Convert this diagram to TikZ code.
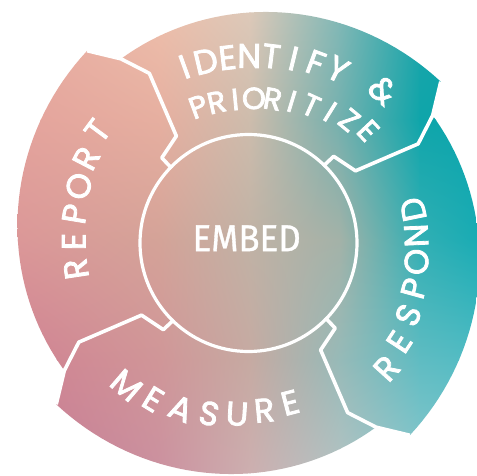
\documentclass[tikz,border=0pt]{standalone}
\usepackage{fontspec}
\newfontfamily\lblfont{Poppins}[FakeBold=2.4]
\newfontfamily\embfont{Fira Sans}[FakeBold=1]
\usetikzlibrary{calc,shadings}
\newlength\lwid
\newcommand\lblsize{\lblfont\fontsize{33}{33}\selectfont}
\newcommand\gapchar{\kern2pt}
% colour control grid: columns x=0,160,250,340,420,477 ; rows y(px)=0,120,240,360,475
\definecolor{c00}{RGB}{232,170,160}\definecolor{c10}{RGB}{238,192,172}\definecolor{c20}{RGB}{222,202,186}\definecolor{c30}{RGB}{130,185,183}\definecolor{c40}{RGB}{30,165,170}\definecolor{c50}{RGB}{0,160,168}
\definecolor{c01}{RGB}{228,162,156}\definecolor{c11}{RGB}{230,175,160}\definecolor{c21}{RGB}{205,188,172}\definecolor{c31}{RGB}{115,176,174}\definecolor{c41}{RGB}{15,165,170}\definecolor{c51}{RGB}{10,165,172}
\definecolor{c02}{RGB}{220,150,152}\definecolor{c12}{RGB}{212,163,152}\definecolor{c22}{RGB}{192,178,165}\definecolor{c32}{RGB}{163,178,168}\definecolor{c42}{RGB}{50,175,180}\definecolor{c52}{RGB}{25,172,180}
\definecolor{c03}{RGB}{208,128,146}\definecolor{c13}{RGB}{208,150,152}\definecolor{c23}{RGB}{198,170,162}\definecolor{c33}{RGB}{150,186,184}\definecolor{c43}{RGB}{95,188,194}\definecolor{c53}{RGB}{80,188,196}
\definecolor{c04}{RGB}{195,118,145}\definecolor{c14}{RGB}{203,145,160}\definecolor{c24}{RGB}{205,175,176}\definecolor{c34}{RGB}{180,195,195}\definecolor{c44}{RGB}{140,200,205}\definecolor{c54}{RGB}{125,200,206}
\tikzset{
  sepline/.style={white, line width=3.6pt, line join=round},
  ringline/.style={white, line width=3.2pt},
  lbl/.style={text=white, font=\lblsize, inner sep=0pt, outer sep=0pt, anchor=center},
  embedtext/.style={text=white, font=\embfont\fontsize{37.5}{37.5}\selectfont, inner sep=0pt, xscale=0.93},
}
\pgfmathdeclarefunction{spr}{2}{\pgfmathparse{224+8*(((#1)-(#2))/84.7)+19*(((#1)-(#2))/84.7)^2}}
% #1 first centre angle, #2 last centre angle, #3 r first, #4 r middle, #5 r last,
% #6 rotation offset, #7 letters, #8 name prefix
\newcommand\arcword[8]{%
  \xdef\awW{0}\xdef\awN{0}%
  \foreach \ch in {#7}{%
    \settowidth{\lwid}{\lblsize\ch}%
    \pgfmathsetmacro\awTmp{\awW+\lwid}\xdef\awW{\awTmp}%
    \pgfmathtruncatemacro\awTmpn{\awN+1}\xdef\awN{\awTmpn}%
    \pgfmathsetmacro\awTmp{\lwid}%
    \ifnum\awN=1 \xdef\awFirst{\awTmp}\fi
    \xdef\awLast{\awTmp}%
  }%
  \pgfmathsetmacro\awS{\awW-(\awFirst+\awLast)/2}%
  \pgfmathsetmacro\awL{abs((#2)-(#1))*pi/180*((#3)+(#4)+(#5))/3}%
  \pgfmathsetmacro\awT{(\awL-\awS)/(\awN-1)}%
  \xdef\awT{\awT}\xdef\awL{\awL}%
  \xdef\awC{0}\xdef\awPrev{0}\xdef\awI{0}%
  \foreach \ch in {#7}{%
    \settowidth{\lwid}{\lblsize\ch}%
    \pgfmathsetmacro\awTmp{\lwid}%
    \ifnum\awI=0 \xdef\awC{0}\else
      \pgfmathsetmacro\awTmpc{\awC+(\awPrev+\awTmp)/2+\awT}\xdef\awC{\awTmpc}\fi
    \xdef\awPrev{\awTmp}%
    \pgfmathtruncatemacro\awTmpi{\awI+1}\xdef\awI{\awTmpi}%
    \pgfmathsetmacro\awF{\awC/\awL}%
    \pgfmathsetmacro\awA{(#1)+((#2)-(#1))*\awF}%
    \pgfmathsetmacro\awR{(#3)*2*(\awF-0.5)*(\awF-1)-4*(#4)*\awF*(\awF-1)+(#5)*2*\awF*(\awF-0.5)}%
    \pgfmathsetmacro\awRot{\awA+(#6)}%
    \node[lbl,rotate=\awRot] (#8\awI) at ({248.5+\awR*cos(\awA)},{232+\awR*sin(\awA)}) {\ch};
  }%
}
\begin{document}
\begin{tikzpicture}[x=1pt,y=1pt]
\useasboundingbox (0,0) rectangle (477,475);
\fill[white] (0,0) rectangle (477,475);
\coordinate (C) at (248.5,232);
% gradient-filled ring shape
\begin{scope}
  \clip ({248.5+224*cos(304.7)},{232+224*sin(304.7)})
    \foreach \h/\s in {220/304.7,130/214.7,40/124.7,-50/34.7}{
      -- plot[domain=\s:\h,samples=40] ({248.5+spr(\s,\x)*cos(\x)},{232+spr(\s,\x)*sin(\x)})
      -- ({248.5+224*cos(\h-5.3)},{232+224*sin(\h-5.3)})
    } -- cycle;
  \foreach \i/\xa/\xb in {0/0/160,1/160/250,2/250/340,3/340/420,4/420/477}{
    \foreach \j/\ya/\yb in {0/0/120,1/120/240,2/240/360,3/360/475}{
      \pgfmathtruncatemacro\ii{\i+1}
      \pgfmathtruncatemacro\jj{\j+1}
      \edef\cul{c\i\j}\edef\cur{c\ii\j}\edef\cll{c\i\jj}\edef\clr{c\ii\jj}
      \shade[upper left=\cul, upper right=\cur, lower left=\cll, lower right=\clr]
        (\xa-0.4,475-\yb-0.4) rectangle (\xb+0.4,475-\ya+0.4);
    }
  }
\end{scope}
% arrow-shaped separators
\foreach \h in {130,40,-50,-140}{
  \draw[sepline] ($(C)+(\h:251)$) -- ($(C)+(\h-5.3:224)$) -- ($(C)+(\h-9.7:196.5)$)
     -- ($(C)+(\h-6:129)$) -- ($(C)+(\h+5.5:121.5)$) -- ($(C)+(\h+5.8:107)$);
}
% centre circle
\draw[ringline] (C) circle[radius=108.5];
\node[embedtext] (embed) at (246.7,236.7) {EMBED};
% curved labels
\renewcommand\lblsize{\lblfont\fontsize{34}{34}\selectfont}
\arcword{110}{48.7}{187.5}{189}{203.5}{-90}{I,D,E,N,T,I,F,Y,\gapchar,\&}{idf}
\renewcommand\lblsize{\lblfont\fontsize{30.5}{30.5}\selectfont}
\arcword{110.2}{43.2}{145.3}{147}{164.2}{-90}{P,R,I,O,R,I,T,I,Z,E}{pri}
\renewcommand\lblsize{\lblfont\fontsize{33.5}{33.5}\selectfont}
\arcword{188.6}{143.4}{174.5}{177.5}{188.3}{-90}{R,E,P,O,R,T}{rep}
\arcword{-42.2}{11.5}{186.5}{171.5}{168}{90}{R,E,S,P,O,N,D}{res}
\arcword{229.4}{284.6}{187.5}{175}{165}{90}{M,E,A,S,U,R,E}{mea}
\end{tikzpicture}
\end{document}
